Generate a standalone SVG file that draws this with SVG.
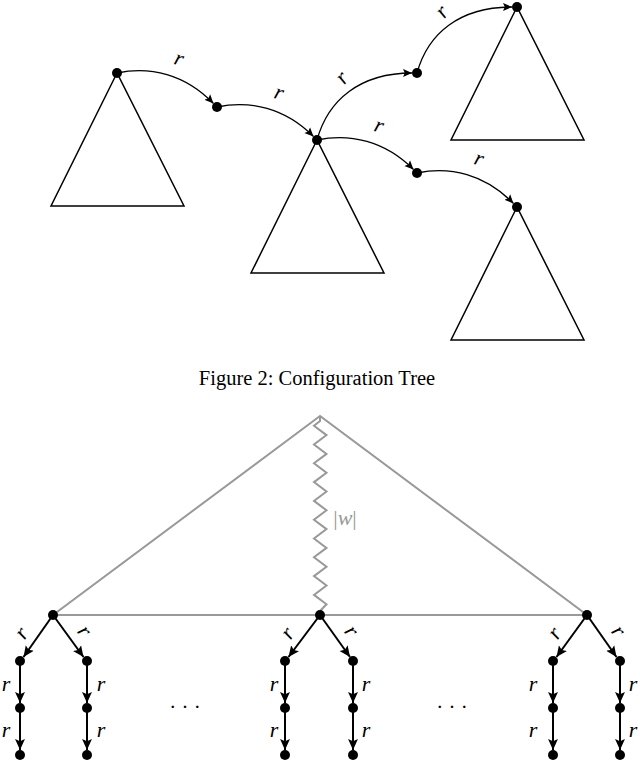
<svg xmlns="http://www.w3.org/2000/svg" width="640" height="762" viewBox="0 0 640 762">
<style>
.tri{fill:none;stroke:#000;stroke-width:1.5;stroke-linejoin:miter}
.dot{fill:#000}
.cv{fill:none;stroke:#000;stroke-width:1.3;marker-end:url(#ah)}
.ed{fill:none;stroke:#000;stroke-width:2;marker-end:url(#ah2)}
.gr{fill:none;stroke:#999;stroke-width:2}
.lb{font-family:"Liberation Serif",serif;font-style:italic;font-size:22px;fill:#000}
.cap{font-family:"Liberation Serif",serif;font-size:20.5px;fill:#000}
</style>
<defs>
<marker id="ah" viewBox="0 0 10 10" refX="10" refY="5" markerWidth="9" markerHeight="9" markerUnits="userSpaceOnUse" orient="auto"><path d="M0,0.5 L10,5 L0,9.5 L2,5 Z" fill="#000"/></marker>
<marker id="ah2" viewBox="0 0 10 10" refX="10" refY="5" markerWidth="11" markerHeight="11" markerUnits="userSpaceOnUse" orient="auto"><path d="M0,0.5 L10,5 L0,9.5 L2,5 Z" fill="#000"/></marker>
</defs>

<g id="connectors">
<path class="cv" d="M117,73 C150,66 185,74 213.5,103.5"/>
<path class="cv" d="M217,107 C250,100 285,108 313.5,136.5"/>
<path class="cv" d="M317,140 C328,100 360,73 412,73"/>
<path class="cv" d="M417,73 C428,33 460,7 512,7"/>
<path class="cv" d="M317,140 C350,133 385,141 413.5,169.5"/>
<path class="cv" d="M417,173 C450,166 485,174 513.5,203.5"/>
<text class="lb" transform="translate(177,65) rotate(18)" text-anchor="middle">r</text>
<text class="lb" transform="translate(277,99) rotate(18)" text-anchor="middle">r</text>
<text class="lb" transform="translate(347,82) rotate(-50)" text-anchor="middle">r</text>
<text class="lb" transform="translate(447,16) rotate(-50)" text-anchor="middle">r</text>
<text class="lb" transform="translate(377,132) rotate(18)" text-anchor="middle">r</text>
<text class="lb" transform="translate(477,165) rotate(18)" text-anchor="middle">r</text>

<g id="bottom-edges">
<path class="ed" d="M53,615 L23.5,657"/>
<path class="ed" d="M53,615 L83.5,657"/>
<path class="ed" d="M20,661 V703"/>
<path class="ed" d="M20,708 V750"/>
<path class="ed" d="M87,661 V703"/>
<path class="ed" d="M87,708 V750"/>
<path class="ed" d="M320,615 L288.5,657"/>
<path class="ed" d="M320,615 L350,657"/>
<path class="ed" d="M285,661 V703"/>
<path class="ed" d="M285,708 V750"/>
<path class="ed" d="M353,661 V703"/>
<path class="ed" d="M353,708 V750"/>
<path class="ed" d="M587,615 L556.5,657"/>
<path class="ed" d="M587,615 L616.5,657"/>
<path class="ed" d="M553,661 V703"/>
<path class="ed" d="M553,708 V750"/>
<path class="ed" d="M620,661 V703"/>
<path class="ed" d="M620,708 V750"/>
</g>
<g id="bottom-labels">
<text class="lb" transform="translate(27,637) rotate(-54)" text-anchor="middle">r</text>
<text class="lb" transform="translate(79,635) rotate(54)" text-anchor="middle">r</text>
<text class="lb" transform="translate(293,637) rotate(-54)" text-anchor="middle">r</text>
<text class="lb" transform="translate(346,635) rotate(54)" text-anchor="middle">r</text>
<text class="lb" transform="translate(560,637) rotate(-54)" text-anchor="middle">r</text>
<text class="lb" transform="translate(613,635) rotate(54)" text-anchor="middle">r</text>
<text class="lb" x="6" y="691" text-anchor="middle">r</text>
<text class="lb" x="6" y="737" text-anchor="middle">r</text>
<text class="lb" x="101" y="691" text-anchor="middle">r</text>
<text class="lb" x="101" y="737" text-anchor="middle">r</text>
<text class="lb" x="274" y="691" text-anchor="middle">r</text>
<text class="lb" x="274" y="737" text-anchor="middle">r</text>
<text class="lb" x="366" y="691" text-anchor="middle">r</text>
<text class="lb" x="366" y="737" text-anchor="middle">r</text>
<text class="lb" x="533" y="691" text-anchor="middle">r</text>
<text class="lb" x="533" y="737" text-anchor="middle">r</text>
<text class="lb" x="633" y="691" text-anchor="middle">r</text>
<text class="lb" x="633" y="737" text-anchor="middle">r</text>
</g>
</g>

<g id="tree-A">
<polygon class="tri" points="117,73 51,206 184,206"/>
<circle class="dot" cx="117" cy="73" r="5"/>
</g>
<g id="node-B"><circle class="dot" cx="217" cy="107" r="5"/></g>
<g id="tree-C">
<polygon class="tri" points="317,140 251,273 384,273"/>
<circle class="dot" cx="317" cy="140" r="5"/>
</g>
<g id="node-D"><circle class="dot" cx="417" cy="73" r="5"/></g>
<g id="tree-E">
<polygon class="tri" points="517,7 451,140 584,140"/>
<circle class="dot" cx="517" cy="7" r="5"/>
</g>
<g id="node-F"><circle class="dot" cx="417" cy="173" r="5"/></g>
<g id="tree-G">
<polygon class="tri" points="517,207 451,340 584,340"/>
<circle class="dot" cx="517" cy="207" r="5"/>
</g>

<text class="cap" x="317" y="385" text-anchor="middle">Figure 2: Configuration Tree</text>

<g id="big-triangle">
<polygon class="gr" points="320,416 53,615 587,615"/>
<polyline class="gr" points="320,416 320,421 314,425.7 326.5,435.1 314,444.5 326.5,453.9 314,463.3 326.5,472.7 314,482.1 326.5,491.5 314,500.9 326.5,510.3 314,519.7 326.5,529.1 314,538.5 326.5,547.9 314,557.3 326.5,566.7 314,576.1 326.5,585.5 314,594.9 326.5,604.3 320,611"/>
<text x="345" y="525" text-anchor="middle" font-family="Liberation Serif, serif" font-size="22" fill="#999">|<tspan font-style="italic">w</tspan>|</text>
</g>

<g id="group-left">
<circle class="dot" cx="53" cy="615" r="5"/>
<circle class="dot" cx="20" cy="661" r="5"/>
<circle class="dot" cx="20" cy="708" r="5"/>
<circle class="dot" cx="20" cy="755" r="5"/>
<circle class="dot" cx="87" cy="661" r="5"/>
<circle class="dot" cx="87" cy="708" r="5"/>
<circle class="dot" cx="87" cy="755" r="5"/>
</g>
<g id="group-middle">
<circle class="dot" cx="320" cy="615" r="5"/>
<circle class="dot" cx="285" cy="661" r="5"/>
<circle class="dot" cx="285" cy="708" r="5"/>
<circle class="dot" cx="285" cy="755" r="5"/>
<circle class="dot" cx="353" cy="661" r="5"/>
<circle class="dot" cx="353" cy="708" r="5"/>
<circle class="dot" cx="353" cy="755" r="5"/>
</g>
<g id="group-right">
<circle class="dot" cx="587" cy="615" r="5"/>
<circle class="dot" cx="553" cy="661" r="5"/>
<circle class="dot" cx="553" cy="708" r="5"/>
<circle class="dot" cx="553" cy="755" r="5"/>
<circle class="dot" cx="620" cy="661" r="5"/>
<circle class="dot" cx="620" cy="708" r="5"/>
<circle class="dot" cx="620" cy="755" r="5"/>
</g>

<text x="185" y="714" text-anchor="middle" font-family="Liberation Serif, serif" font-size="21" fill="#000">· · ·</text>
<text x="452" y="714" text-anchor="middle" font-family="Liberation Serif, serif" font-size="21" fill="#000">· · ·</text>
</svg>
